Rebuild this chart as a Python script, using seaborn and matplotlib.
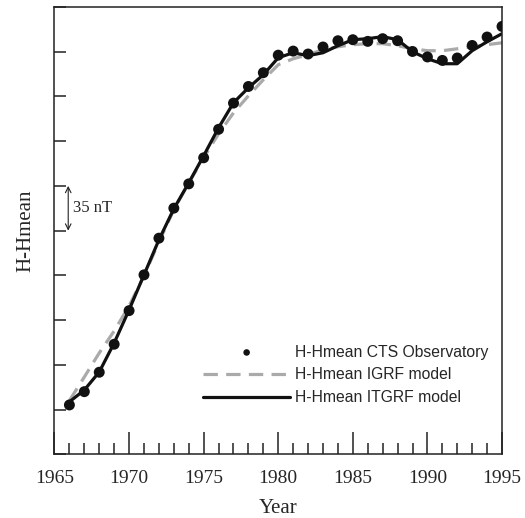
import numpy as np
import pandas as pd
import matplotlib
matplotlib.use('Agg')
import matplotlib.pyplot as plt
import seaborn as sns

# data (nT above the lowest axis level)
years = list(range(1966, 1996))
cts_obs = [38.6, 49.0, 64.2, 86.1, 112.4, 140.4, 169.1, 192.6, 211.6, 232.0,
           254.3, 274.8, 287.8, 298.6, 312.3, 315.5, 313.2, 318.7, 323.6, 324.4,
           323.1, 325.2, 323.6, 315.2, 310.9, 308.2, 310.1, 319.9, 326.5, 334.8]
igrf = [42.0, 60.5, 79.3, 96.5, 116.1, 139.6, 166.2, 191.3, 212.4, 232.0,
        250.8, 267.2, 280.5, 293.1, 304.8, 309.5, 312.7, 316.6, 318.9, 320.5,
        321.3, 321.3, 319.7, 317.3, 315.8, 315.8, 317.3, 318.9, 320.5, 322.0]
itgrf = [41.0, 50.3, 64.4, 87.1, 113.0, 140.4, 167.8, 192.1, 212.4, 233.6,
         255.5, 275.1, 286.8, 297.0, 310.3, 314.2, 311.9, 314.2, 319.7, 324.4,
         325.2, 326.8, 324.4, 315.0, 309.5, 305.6, 305.6, 315.8, 322.8, 329.1]

data = pd.DataFrame({'Year': years, 'CTS': cts_obs, 'IGRF': igrf, 'ITGRF': itgrf})

sns.set_style('ticks')
plt.rcParams['font.family'] = ['Liberation Serif', 'DejaVu Serif']

fig = plt.figure(figsize=(5.25, 5.18), dpi=100)
ax = fig.add_axes([0.1038, 0.123, 0.8524, 0.8635])

sns.lineplot(x='Year', y='IGRF', data=data, ax=ax, color='#aaaaaa', lw=2.3,
             dashes=False, label='H-Hmean IGRF model')
ax.lines[-1].set_dashes((4.5, 2.6))
sns.lineplot(x='Year', y='ITGRF', data=data, ax=ax, color='#111111', lw=2.3,
             label='H-Hmean ITGRF model')
sns.scatterplot(x='Year', y='CTS', data=data, ax=ax, color='#111111', s=62,
                edgecolor='none', label='H-Hmean CTS Observatory', zorder=5)

ax.set_xlim(1965, 1995)
ax.set_ylim(0, 350)
ax.set_xticks(range(1965, 1996, 5))
ax.set_xticks(range(1965, 1996), minor=True)
ax.set_yticks(np.arange(0, 351, 35))
ax.set_yticklabels([])
ax.tick_params(axis='x', which='major', direction='in', length=16, width=1.1,
               labelsize=14, pad=11, color='#222222')
ax.tick_params(axis='x', which='minor', direction='in', length=8, width=1.1,
               color='#222222')
ax.tick_params(axis='y', direction='in', length=8.6, width=1.1, color='#222222')
for sp in ax.spines.values():
    sp.set_linewidth(1.1)
    sp.set_color('#222222')

ax.set_xlabel('Year', fontsize=15, labelpad=9)
ax.set_ylabel('H-Hmean', fontsize=15, labelpad=10)

# 35 nT scale bar
ax.annotate('', xy=(1965.92, 175), xytext=(1965.92, 210),
            arrowprops=dict(arrowstyle='<->', lw=0.8, color='#222222',
                            shrinkA=0, shrinkB=0))
ax.text(1966.25, 192.5, '35 nT', fontsize=12, va='center', ha='left')

h, l = ax.get_legend_handles_labels()
order = [2, 0, 1]
leg = ax.legend([h[i] for i in order], [l[i] for i in order], frameon=False,
                loc='lower right', bbox_to_anchor=(1.0, 0.078),
                prop={'family': 'Liberation Sans', 'size': 11.3},
                handlelength=5.5, handletextpad=0.3, labelspacing=0.5,
                markerscale=0.6)

fig.savefig('out.png', dpi=100)
